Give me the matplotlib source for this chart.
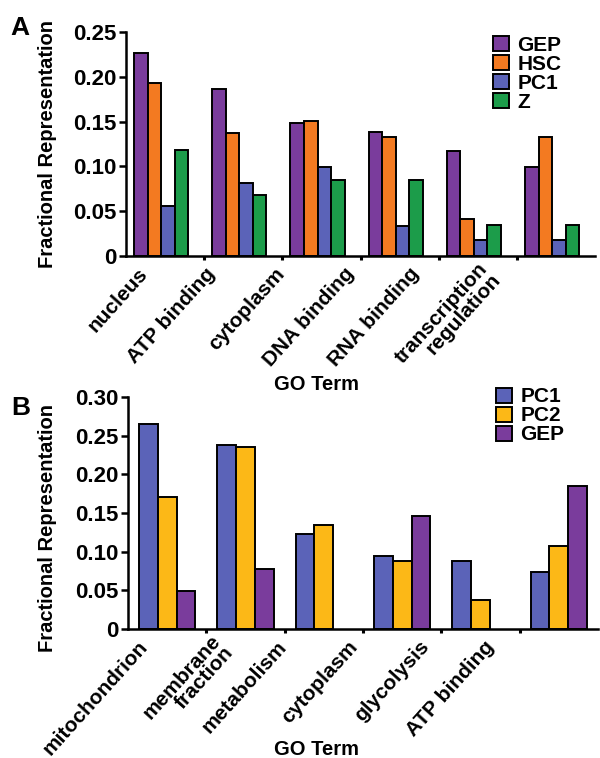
import numpy as np
import matplotlib
matplotlib.use("Agg")
import matplotlib.pyplot as plt
from matplotlib.transforms import ScaledTranslation

plt.rcParams['font.family'] = ['Liberation Sans', 'DejaVu Sans']
plt.rcParams['font.weight'] = 'bold'

# panel A data
terms_a = ['nucleus', 'ATP binding', 'cytoplasm', 'DNA binding', 'RNA binding',
           'transcription\nregulation']
gep_a = [0.226, 0.186, 0.148, 0.138, 0.117, 0.099]
hsc_a = [0.193, 0.137, 0.151, 0.133, 0.041, 0.133]
pc1_a = [0.056, 0.081, 0.099, 0.033, 0.018, 0.018]
z_a = [0.118, 0.068, 0.085, 0.085, 0.035, 0.035]

# panel B data (nan = no bar)
terms_b = ['mitochondrion', 'membrane\nfraction', 'metabolism', 'cytoplasm',
           'glycolysis', 'ATP binding']
pc1_b = [0.265, 0.238, 0.123, 0.095, 0.088, 0.074]
pc2_b = [0.171, 0.235, 0.135, 0.088, 0.037, 0.107]
gep_b = [0.049, 0.078, np.nan, 0.146, np.nan, 0.185]

PURPLE = '#7a3c9c'
ORANGE = '#f37a21'
BLUE = '#5b63b8'
GREEN = '#1c9c4a'
YELLOW = '#fcb817'

fig = plt.figure(figsize=(6, 7.58), dpi=100)
axA = fig.add_axes([0.21, 0.6623, 0.7817, 0.2955])
axB = fig.add_axes([0.2133, 0.1702, 0.7833, 0.3061])


def draw(ax, terms, series, width, shift, ymax, ystep, label_dx, leg_xy):
    x = np.arange(len(terms))
    n = len(series)
    for k, (name, vals, col) in enumerate(series):
        off = (k - (n - 1) / 2) * width + shift
        ax.bar(x + off, vals, width, color=col, edgecolor='black',
               linewidth=1.4, label=name, zorder=2)
    ax.set_xlim(-0.5, len(terms) - 0.5)
    ax.set_ylim(0, ymax)
    yt = np.arange(0, ymax + 1e-9, ystep)
    ax.set_yticks(yt)
    ax.set_yticklabels(['0'] + ['%.2f' % v for v in yt[1:]], fontsize=16)
    ax.set_xticks(x)
    ax.set_xticks(x[:-1] + 0.5, minor=True)
    ax.tick_params(axis='x', which='major', length=0, pad=2)
    ax.tick_params(axis='x', which='minor', length=3, width=2.2, direction='out')
    ax.tick_params(axis='y', length=5, width=1.8, pad=2)
    ax.set_xticklabels(terms, rotation=48, ha='right', va='center',
                       rotation_mode='anchor', fontsize=15,
                       multialignment='right', linespacing=0.85)
    # labels sit a little left of their groups, increasingly so to the right
    for lab, dx in zip(ax.get_xticklabels(), label_dx):
        lab.set_transform(lab.get_transform() +
                          ScaledTranslation(dx / 100, -0.12, fig.dpi_scale_trans))
    for s in ['top', 'right']:
        ax.spines[s].set_visible(False)
    for s in ['left', 'bottom']:
        ax.spines[s].set_linewidth(1.8)
    ax.legend(loc='upper right', bbox_to_anchor=leg_xy, frameon=False,
              fontsize=15, handlelength=0.75, handleheight=0.75,
              handletextpad=0.4, labelspacing=0.0, borderaxespad=0.2)


draw(axA, terms_a, [('GEP', gep_a, PURPLE), ('HSC', hsc_a, ORANGE),
                    ('PC1', pc1_a, BLUE), ('Z', z_a, GREEN)],
     0.173, -0.05, 0.25, 0.05, [-21, -31, -40, -49, -62, -65], (0.955, 1.04))
draw(axB, terms_b, [('PC1', pc1_b, BLUE), ('PC2', pc2_b, YELLOW),
                    ('GEP', gep_b, PURPLE)],
     0.24, 0.0, 0.30, 0.05, [-23, -22, -40, -48, -55, -68], (0.955, 1.095))

fig.text(0.08, 0.81, 'Fractional Representation', rotation=90, ha='center',
         va='center', fontsize=14.5)
fig.text(0.08, 0.303, 'Fractional Representation', rotation=90, ha='center',
         va='center', fontsize=14.5)
fig.text(0.527, 0.493, 'GO Term', ha='center', va='center', fontsize=14.5)
fig.text(0.527, 0.011, 'GO Term', ha='center', va='center', fontsize=14.5)
fig.text(0.018, 0.979, 'A', ha='left', va='top', fontsize=19)
fig.text(0.018, 0.477, 'B', ha='left', va='top', fontsize=19)

fig.savefig('out.png', dpi=100)
